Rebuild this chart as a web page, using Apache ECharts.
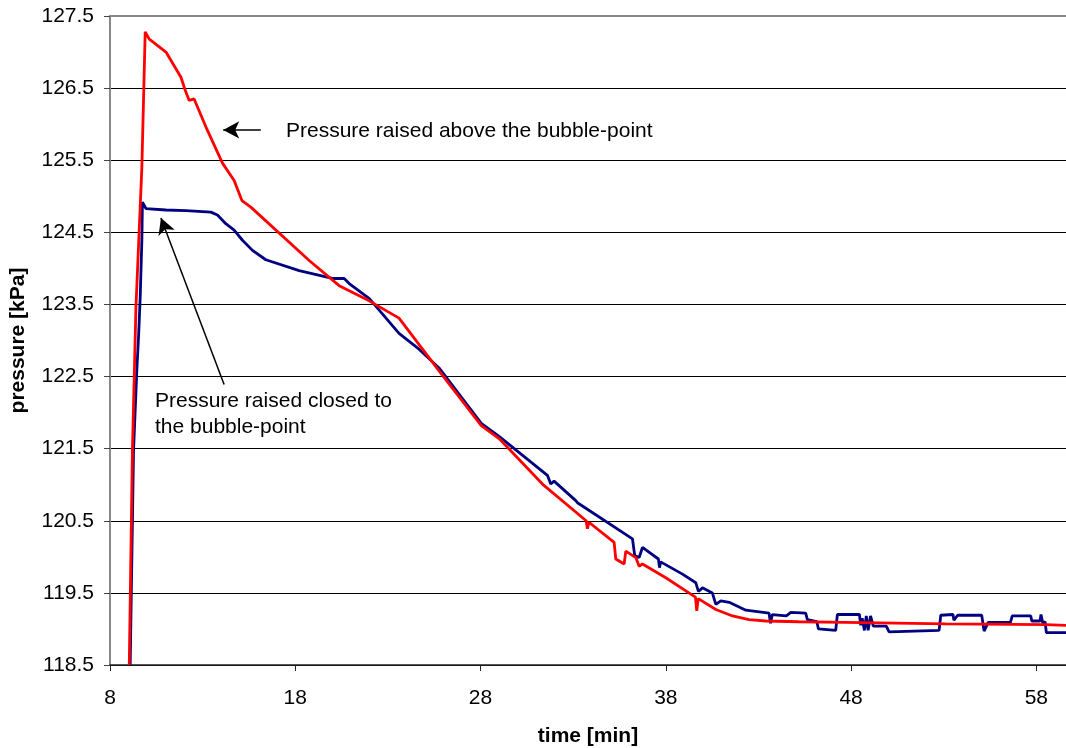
<!DOCTYPE html>
<html>
<head>
<meta charset="utf-8">
<script src="https://cdn.jsdelivr.net/npm/echarts@6/dist/echarts.min.js"></script>
<style>
  html, body { margin: 0; padding: 0; background: #fff; }
  #chart { width: 1066px; height: 748px; }
</style>
</head>
<body>
<div id="chart"></div>
<script>
// pressure raised above the bubble-point (red)
let aboveTime = [9.04, 9.21, 9.4, 9.72, 9.9, 10.12, 11.02, 11.83, 12.06, 12.27, 12.54, 13.18, 14.07, 14.7, 15.12, 15.6,
    18.75, 20.37, 21.99, 23.6, 25.76, 28.04, 29.0, 31.42, 33.7, 33.77, 33.85, 35.21, 35.3, 35.75, 35.84, 36.38, 36.56,
    36.74, 38.0, 39.43, 39.6, 39.67, 39.75, 40.7, 41.6, 42.49, 43.4, 45.18, 47.7, 53.1, 58.5, 59.6];
let abovePressure = [118.5, 121.47, 123.46, 125.4, 127.28, 127.18, 127.0, 126.65, 126.47, 126.33, 126.35, 125.96, 125.46, 125.22, 124.94, 124.85,
    124.11, 123.76, 123.55, 123.31, 122.58, 121.82, 121.64, 120.99, 120.5, 120.39, 120.48, 120.2, 119.97, 119.9, 120.08, 119.99, 119.87,
    119.9, 119.71, 119.47, 119.44, 119.25, 119.42, 119.27, 119.18, 119.13, 119.11, 119.1, 119.09, 119.07, 119.06, 119.05];

// pressure raised closed to the bubble-point (blue)
let closeTime = [9.09, 9.27, 9.45, 9.55, 9.63, 9.72, 9.75, 9.94, 11.02, 12.1, 13.44, 13.8, 14.25, 14.7, 15.15, 15.69, 16.41,
    18.21, 20.0, 20.64, 20.91, 22.0, 23.6, 24.68, 25.76, 28.04, 29.0, 31.61, 31.79, 31.97, 33.14, 33.23, 36.2, 36.32, 36.56, 36.74,
    37.6, 37.66, 37.72, 38.9, 39.62, 39.76, 39.98, 40.51, 40.7, 40.97, 41.42, 42.32, 43.57, 43.65, 43.75, 44.5, 44.75,
    45.55, 45.64, 46.15, 46.24, 47.17, 47.26, 48.45, 48.52, 48.6, 48.72, 48.82, 48.92, 49.05, 49.2, 49.9, 50.05, 52.75, 52.84,
    53.5, 53.55, 53.75, 55.05, 55.18, 55.4, 56.6, 56.7, 57.7, 57.75, 58.2, 58.25, 58.35, 58.47, 58.54, 59.6];
let closePressure = [118.5, 121.47, 122.6, 123.1, 123.6, 124.39, 124.92, 124.83, 124.81, 124.8, 124.78, 124.74, 124.62, 124.53, 124.39, 124.25, 124.12,
    123.97, 123.86, 123.86, 123.79, 123.58, 123.1, 122.88, 122.62, 121.85, 121.67, 121.13, 121.01, 121.05, 120.78, 120.75, 120.25, 120.02, 119.99, 120.13,
    119.97, 119.85, 119.93, 119.76, 119.64, 119.52, 119.57, 119.5, 119.34, 119.39, 119.37, 119.26, 119.22, 119.08, 119.2, 119.18, 119.23,
    119.22, 119.13, 119.1, 119.0, 118.98, 119.2, 119.2, 119.05, 119.15, 118.98, 119.18, 118.98, 119.18, 119.04, 119.04, 118.96, 118.98, 119.19,
    119.2, 119.12, 119.19, 119.19, 118.97, 119.09, 119.09, 119.18, 119.18, 119.11, 119.11, 119.2, 119.08, 119.1, 118.95, 118.95];

let xTicks = [8, 18, 28, 38, 48, 58];
let yMin = 118.5, yMax = 127.5;

function pairs(xs, ys) {
    return xs.map(function (x, i) { return [x, ys[i]]; });
}

let font = '"Liberation Sans", Arial, sans-serif';
let chart = echarts.init(document.getElementById('chart'));

let option = {
    animation: false,
    grid: { left: 110, right: 0, top: 16, bottom: 83, containLabel: false, outerBoundsMode: 'none' },
    xAxis: [{
        type: 'value',
        min: xTicks[0],
        max: 59.6,
        interval: 10,
        name: 'time [min]',
        nameLocation: 'middle',
        nameGap: 71,
        nameTextStyle: { fontFamily: font, fontSize: 21, fontWeight: 'bold', color: '#000', verticalAlign: 'middle' },
        axisLine: { lineStyle: { color: '#222', width: 1.5 } },
        axisTick: { show: true, length: 6, lineStyle: { color: '#222' } },
        axisLabel: { fontFamily: font, fontSize: 21, color: '#000', margin: 23, showMaxLabel: false },
        splitLine: { show: false }
    }, {
        type: 'value',
        position: 'top',
        min: xTicks[0],
        max: 59.6,
        axisLine: { show: true, lineStyle: { color: '#888', width: 2 } },
        axisTick: { show: false },
        axisLabel: { show: false },
        splitLine: { show: false }
    }],
    yAxis: {
        type: 'value',
        min: yMin,
        max: yMax,
        interval: 1,
        name: 'pressure [kPa]',
        nameLocation: 'middle',
        nameGap: 92,
        nameTextStyle: { fontFamily: font, fontSize: 21, fontWeight: 'bold', color: '#000', verticalAlign: 'middle' },
        axisLine: { show: true, lineStyle: { color: '#888', width: 2 } },
        axisTick: { show: true, length: 6, lineStyle: { color: '#444' } },
        axisLabel: {
            fontFamily: font, fontSize: 21, color: '#000', margin: 16,
            formatter: function (v) { return v.toFixed(1); }
        },
        splitLine: { show: true, lineStyle: { color: '#000', width: 1 } }
    },
    series: [{
        name: 'closed to bubble-point',
        type: 'line',
        data: pairs(closeTime, closePressure),
        showSymbol: false,
        lineStyle: { color: '#000080', width: 2.8 },
        markLine: {
            silent: true,
            symbol: ['none', 'arrow'],
            symbolSize: [13, 16],
            label: { show: false },
            lineStyle: { color: '#000', width: 1.5, type: 'solid' },
            data: [
                [{ coord: [14.16, 122.39] }, { coord: [10.75, 124.7] }],
                [{ coord: [16.14, 125.92] }, { coord: [14.11, 125.92] }]
            ]
        }
    }, {
        name: 'above bubble-point',
        type: 'line',
        data: pairs(aboveTime, abovePressure),
        showSymbol: false,
        lineStyle: { color: '#ff0000', width: 2.8 }
    }],
    graphic: [{
        type: 'text',
        x: 286, y: 131,
        style: { text: 'Pressure raised above the bubble-point', font: '21px ' + font, fill: '#000', verticalAlign: 'middle' }
    }, {
        type: 'text',
        x: 155, y: 414,
        style: { text: 'Pressure raised closed to\nthe bubble-point', font: '21px ' + font, fill: '#000', lineHeight: 26, verticalAlign: 'middle' }
    }]
};

chart.setOption(option);
</script>
</body>
</html>
